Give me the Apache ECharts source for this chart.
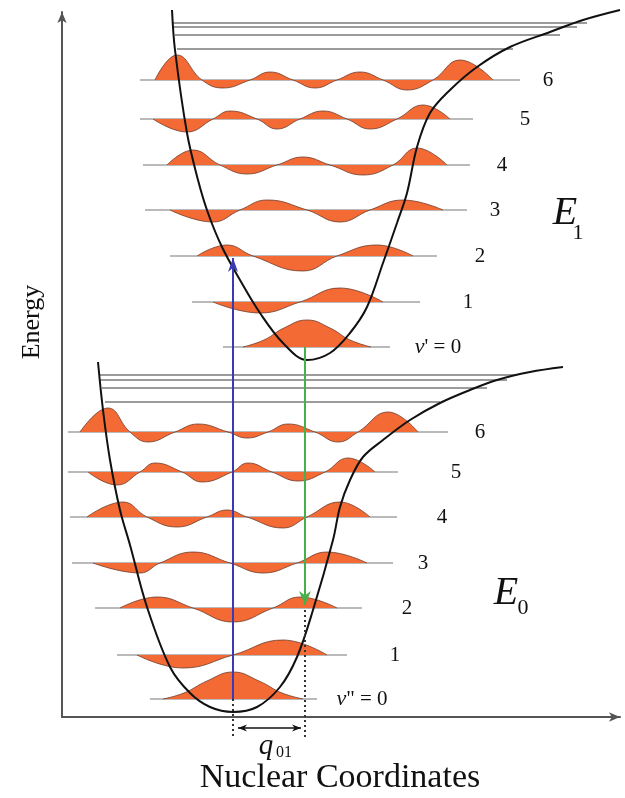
<!DOCTYPE html>
<html><head><meta charset="utf-8">
<script src="https://cdn.jsdelivr.net/npm/echarts@6/dist/echarts.min.js"></script>
<style>html,body{margin:0;padding:0;background:#fff}#c{width:625px;height:798px}</style>
</head><body><div id="c"></div>
<script>
// ---------------- DATA (nuclear coordinate x, energy y; arbitrary units) ----------------
const groundCurve = [[36,355],[41,307],[48,257],[58,207],[68,172],[85,110],[108,50],[128,24],[148,10],[171,5],[195,10],[218,30],[235,60],[251,107],[271,177],[278,210],[288,237],[301,260],[321,277],[348,297],[378,314],[408,327],[435,337],[468,345],[501,350]];
const excitedCurve = [[110,707],[113,667],[125,584],[136,537],[146,504],[160,470],[178,437],[198,404],[221,374],[245,357],[268,364],[288,384],[305,410],[321,454],[335,494],[345,524],[355,570],[368,604],[388,627],[415,650],[448,670],[488,685],[521,697],[558,707]];

// dissociation-region levels
const groundHighLevels = [342, 337, 329, 315];
const groundHighStart = [38, 38, 40, 43];
const groundHighEnd = [455, 445, 425, 378];
const excitedHighLevels = [694, 690, 682, 668];
const excitedHighStart = [111, 111, 113, 115];
const excitedHighEnd = [525, 515, 498, 451];

// vibrational levels v'' = 0..6 and v' = 0..6
const groundLevels = [18, 62, 109, 154, 200, 245, 285];
const groundLineStart = [88, 55, 33, 10, 8, 6, 6];
const groundLineEnd = [255, 285, 300, 331, 335, 336, 386];
const excitedLevels = [370, 415, 461, 507, 552, 598, 637];
const excitedLineStart = [161, 130, 108, 83, 81, 78, 78];
const excitedLineEnd = [328, 358, 375, 405, 408, 411, 458];

// wavefunctions (tails, extrema and nodes)
const groundV0 = [[101,18],[122,24],[145,36],[171,45],[197,36],[220,24],[241,18]];
const groundV1 = [[75,62],[121,49],[171,62],[221,77],[265,62]];
const groundV2 = [[58,109],[95,120],[131,109],[171,95],[211,109],[238,120],[275,109]];
const groundV3 = [[31,154],[78,144],[98,154],[131,165],[168,154],[201,144],[235,154],[265,165],[305,154]];
const groundV4 = [[25,200],[61,215],[85,200],[115,190],[145,200],[165,207],[185,200],[221,189],[245,200],[278,215],[308,200]];
const groundV5 = [[26,245],[55,232],[78,245],[93,254],[120,245],[140,235],[170,245],[186,254],[210,245],[236,236],[263,245],[286,259],[313,245]];
const groundV6 = [[18,285],[46,309],[68,285],[86,275],[113,285],[136,293],[166,285],[185,279],[206,285],[226,293],[253,285],[276,275],[296,285],[326,305],[356,285]];
const excitedV0 = [[181,370],[202,377],[222,389],[245,397],[268,389],[288,377],[309,370]];
const excitedV1 = [[151,415],[198,404],[238,415],[278,429],[321,415]];
const excitedV2 = [[135,461],[165,472],[191,461],[241,446],[275,461],[315,472],[351,461]];
const excitedV3 = [[108,507],[151,495],[178,507],[205,517],[245,507],[278,495],[308,507],[341,517],[381,507]];
const excitedV4 = [[105,552],[131,567],[158,552],[185,543],[215,552],[241,560],[268,552],[301,542],[331,552],[355,569],[385,552]];
const excitedV5 = [[91,598],[125,585],[151,598],[168,606],[195,598],[215,588],[238,598],[261,606],[285,598],[308,588],[335,598],[361,612],[388,598]];
const excitedV6 = [[93,637],[115,662],[140,637],[161,629],[188,637],[208,645],[231,637],[253,629],[275,637],[298,645],[321,637],[345,627],[371,637],[398,657],[431,637]];

// transitions and displacement: [x1, y1, x2, y2]
const absorption = [171, 18, 171, 459];
const emission = [243, 370, 243, 112];
const guideLeft = [171, 18, 171, -20];
const guideRight = [243, 107, 243, -20];
const displacement = [176, -11, 239, -11];

// texts
const groundLabels = ['v" = 0', '1', '2', '3', '4', '5', '6'];
const excitedLabels = ["v' = 0", '1', '2', '3', '4', '5', '6'];
const xAxisTitle = 'Nuclear Coordinates';
const yAxisTitle = 'Energy';

// ---------------- LAYOUT / STYLE ----------------
const groundLabelX = [300, 333, 345, 361, 380, 394, 418];
const excitedLabelX = [376, 406, 418, 433, 440, 463, 486];
const SERIF = '"Liberation Serif", "DejaVu Serif", serif';
const FILL = '#f36a34';
const OUTLINE = '#6e3b2b';
const TEXT = '#111';

const series = [];

function baseLine(y, x1, x2, color, width, z) {
  series.push({type: 'line', data: [[x1, y], [x2, y]], symbol: 'none', clip: false, silent: true,
    lineStyle: {color: color, width: width}, z: z});
}
groundLevels.forEach((y, i) => baseLine(y, groundLineStart[i], groundLineEnd[i], '#a3a3a3', 1.3, 1));
excitedLevels.forEach((y, i) => baseLine(y, excitedLineStart[i], excitedLineEnd[i], '#a3a3a3', 1.3, 1));
groundHighLevels.forEach((y, i) => baseLine(y, groundHighStart[i], groundHighEnd[i], '#7a7a7a', 1.6, 2));
excitedHighLevels.forEach((y, i) => baseLine(y, excitedHighStart[i], excitedHighEnd[i], '#7a7a7a', 1.6, 2));

function wave(data, level) {
  series.push({type: 'line', data: data, smooth: 0.45, symbol: 'none', clip: false, silent: true,
    lineStyle: {color: OUTLINE, width: 0.8},
    areaStyle: {color: FILL, opacity: 1, origin: level}, z: 3});
}
[groundV0, groundV1, groundV2, groundV3, groundV4, groundV5, groundV6].forEach((w, i) => wave(w, groundLevels[i]));
[excitedV0, excitedV1, excitedV2, excitedV3, excitedV4, excitedV5, excitedV6].forEach((w, i) => wave(w, excitedLevels[i]));

[groundCurve, excitedCurve].forEach(c => series.push({type: 'line', data: c, smooth: 0.35, symbol: 'none', clip: false, silent: true,
  lineStyle: {color: '#111', width: 2}, z: 5}));

// arrows via custom series
const arrowList = [absorption, emission, guideLeft, guideRight, displacement];
const arrowStyle = [
  {color: '#3a3ab4', width: 2, dash: null, head: [0, 1], len: 14, half: 5},
  {color: '#48b04a', width: 2, dash: null, head: [0, 1], len: 14, half: 6},
  {color: '#333', width: 2, dash: [2, 3], head: [0, 0]},
  {color: '#333', width: 2, dash: [2, 3], head: [0, 0]},
  {color: '#111', width: 1.6, dash: null, head: [1, 1], len: 9, half: 3.5}
];
series.push({
  type: 'custom', clip: false, silent: true, z: 6,
  data: arrowList,
  renderItem: function (params, api) {
    const st = arrowStyle[params.dataIndex];
    const a = api.coord([api.value(0), api.value(1)]);
    const b = api.coord([api.value(2), api.value(3)]);
    const children = [{type: 'line', shape: {x1: a[0], y1: a[1], x2: b[0], y2: b[1]},
      style: {stroke: st.color, lineWidth: st.width, lineDash: st.dash}}];
    function head(tip, from) {
      const dx = tip[0] - from[0], dy = tip[1] - from[1];
      const L = Math.sqrt(dx * dx + dy * dy) || 1;
      const ux = dx / L, uy = dy / L;
      const bx = tip[0] - ux * st.len, by = tip[1] - uy * st.len;
      const nx = -uy, ny = ux;
      children.push({type: 'polygon', shape: {points: [tip, [bx + nx * st.half, by + ny * st.half], [tip[0] - ux * st.len * 0.7, tip[1] - uy * st.len * 0.7], [bx - nx * st.half, by - ny * st.half]]},
        style: {fill: st.color}});
    }
    if (st.head[1]) head(b, a);
    if (st.head[0]) head(a, b);
    return {type: 'group', children: children};
  }
});

// labels (custom series of text placed through the axes)
const RICH = {
  i: {fontFamily: SERIF, fontStyle: 'italic', fontSize: 22, fill: TEXT, color: TEXT},
  n: {fontFamily: SERIF, fontSize: 21, fill: TEXT, color: TEXT},
  E: {fontFamily: SERIF, fontStyle: 'italic', fontSize: 40, fill: TEXT, color: TEXT},
  s: {fontFamily: SERIF, fontSize: 22, fill: TEXT, color: TEXT},
  q: {fontFamily: SERIF, fontStyle: 'italic', fontSize: 29, fill: TEXT, color: TEXT},
  qs: {fontFamily: SERIF, fontSize: 16, fill: TEXT, color: TEXT}
};
function richName(t) {
  if (t[0] === 'v') return '{i|v}{n|' + t.slice(1) + '}';
  return '{n|' + t + '}';
}
const labelPos = [], labelText = [];
groundLabels.forEach((t, i) => { labelPos.push([groundLabelX[i], groundLevels[i]]); labelText.push(richName(t)); });
excitedLabels.forEach((t, i) => { labelPos.push([excitedLabelX[i], excitedLevels[i]]); labelText.push(richName(t)); });
[[503, 504, '{E|E}'], [516, 484, '{s|1}'], [444, 124, '{E|E}'], [461, 109, '{s|0}'], [204, -29, '{q|q}'], [222, -36, '{qs|01}']]
  .forEach(d => { labelPos.push([d[0], d[1]]); labelText.push(d[2]); });
series.push({
  type: 'custom', clip: false, silent: true, z: 7,
  data: labelPos,
  renderItem: function (params, api) {
    const p = api.coord([api.value(0), api.value(1)]);
    return {type: 'text', x: p[0], y: p[1],
      style: {text: labelText[params.dataIndex], rich: RICH, fill: TEXT, align: 'center', verticalAlign: 'middle'}};
  }
});

const chart = echarts.init(document.getElementById('c'), null, {renderer: 'canvas'});
chart.setOption({
  animation: false,
  backgroundColor: '#fff',
  grid: {left: 62, right: 5, top: 12, bottom: 81, containLabel: false, outerBoundsMode: 'none'},
  xAxis: {type: 'value', min: 0, max: 558, axisLabel: {show: false}, axisTick: {show: false}, splitLine: {show: false},
    axisLine: {show: true, symbol: ['none', 'arrow'], symbolSize: [7, 11], lineStyle: {color: '#555', width: 2}}},
  yAxis: {type: 'value', min: 0, max: 705, axisLabel: {show: false}, axisTick: {show: false}, splitLine: {show: false},
    axisLine: {show: true, symbol: ['none', 'arrow'], symbolSize: [7, 11], lineStyle: {color: '#555', width: 2}}},
  graphic: [
    {type: 'text', x: 32, y: 322, rotation: Math.PI / 2,
      style: {text: yAxisTitle, font: '26px ' + SERIF, fill: TEXT, align: 'center', verticalAlign: 'middle', textAlign: 'center', textVerticalAlign: 'middle'}},
    {type: 'text', x: 340, y: 778,
      style: {text: xAxisTitle, font: '34px ' + SERIF, fill: TEXT, align: 'center', verticalAlign: 'middle', textAlign: 'center', textVerticalAlign: 'middle'}}
  ],
  series: series
});
</script></body></html>
